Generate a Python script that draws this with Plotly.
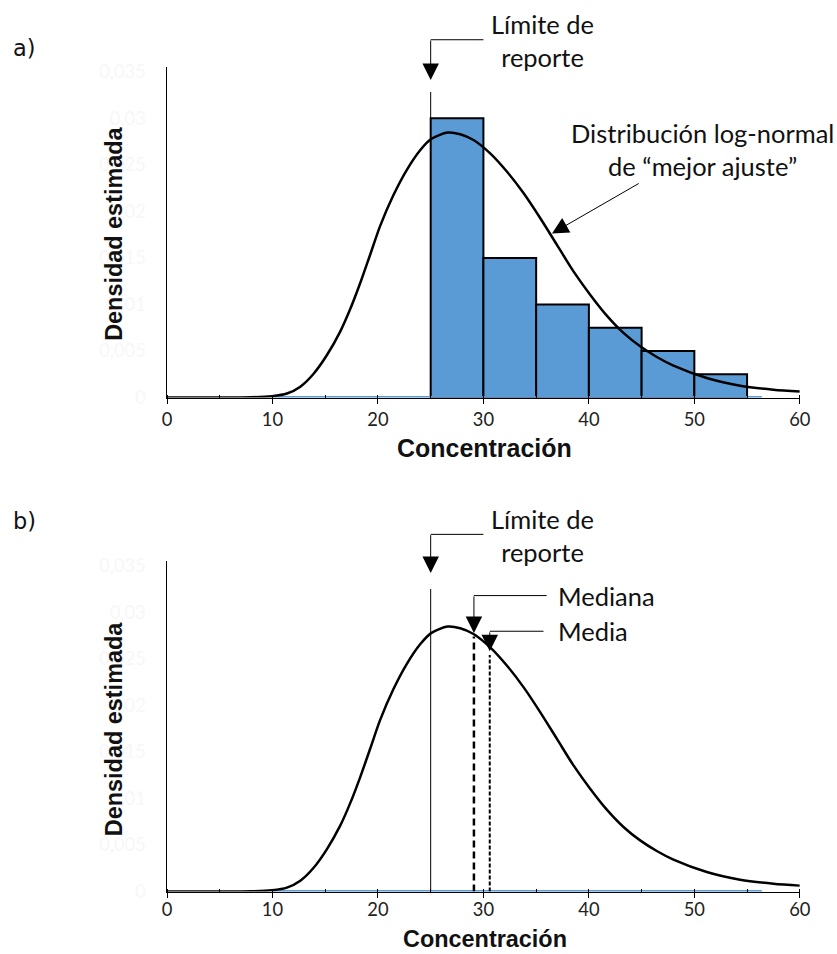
import plotly.graph_objects as go

# ---- data ----
bin_left = [25, 30, 35, 40, 45, 50]
bin_width = 5
bin_density = [0.030, 0.015, 0.010, 0.0075, 0.005, 0.0025]

curve_x = [0, 5, 8, 9.95, 11.37, 12.64, 13.9, 15.15, 16.42, 17.37, 18.31, 19.26, 20.21,
           21.47, 22.74, 24.0, 25.04, 26.6, 27.8, 29.06, 30.64, 32.22, 33.8, 35.38, 36.96,
           38.54, 40.12, 41.7, 43.28, 44.86, 46.44, 48.02, 51.18, 54.34, 57.5, 60.0]
curve_y = [0, 0, 0.00003, 0.00015, 0.00043, 0.00117, 0.00256, 0.00454, 0.00708, 0.00950,
           0.01227, 0.01534, 0.01844, 0.02175, 0.02446, 0.02656, 0.02776, 0.02846, 0.02828,
           0.02766, 0.02623, 0.02428, 0.02196, 0.01928, 0.01642, 0.01355, 0.01105, 0.00880,
           0.00694, 0.00550, 0.00436, 0.00343, 0.00210, 0.00127, 0.00084, 0.00064]

baseline_x = [10, 56.4]
baseline_y = [0, 0]

report_limit = 25
median_x = 29.1
median_top = 0.0274
mean_x = 30.6
mean_top = 0.0254

x_tickvals = [0, 10, 20, 30, 40, 50, 60]
x_ticktext = ["0", "10", "20", "30", "40", "50", "60"]
y_tickvals = [0, 0.005, 0.01, 0.015, 0.02, 0.025, 0.03, 0.035]
y_ticktext = ["0", "0,005", "0,01", "0,015", "0,02", "0,025", "0,03", "0,035"]

W, H = 837, 954
BAR_COLOR = "#5B9BD5"
TXT_FONT = "Lato"
TITLE_FONT = "Liberation Sans"

# the page is shown with a small body margin and then fitted to the window,
# so layout positions are pre-compensated for that
SX = W / (W + 16)
SY = H / (H + 16)
OFF = 5
FS = 1 / SX

def px(r):
    return (r / SX - OFF) / W

def py(r):
    return 1 - (r / SY - OFF) / H

fig = go.Figure()

bar_centers = [b + bin_width / 2 for b in bin_left]
curve_line = dict(color="black", width=2.5, shape="spline", smoothing=0.8)

# ---- top panel (a) ----
fig.add_trace(go.Scatter(x=baseline_x, y=baseline_y, mode="lines",
                         line=dict(color=BAR_COLOR, width=3), xaxis="x", yaxis="y"))
fig.add_trace(go.Bar(x=bar_centers, y=bin_density, width=[bin_width] * len(bin_left),
                     marker=dict(color=BAR_COLOR, line=dict(color="black", width=2)),
                     xaxis="x", yaxis="y"))
fig.add_trace(go.Scatter(x=curve_x, y=curve_y, mode="lines", line=curve_line,
                         xaxis="x", yaxis="y"))

# ---- bottom panel (b) ----
fig.add_trace(go.Scatter(x=baseline_x, y=baseline_y, mode="lines",
                         line=dict(color=BAR_COLOR, width=3), xaxis="x2", yaxis="y2"))
fig.add_trace(go.Scatter(x=[report_limit, report_limit], y=[0, 0.0325], mode="lines",
                         line=dict(color="black", width=1), xaxis="x2", yaxis="y2"))
fig.add_trace(go.Scatter(x=[median_x, median_x], y=[0, median_top], mode="lines",
                         line=dict(color="black", width=2.5, dash="7px,4px"),
                         xaxis="x2", yaxis="y2"))
fig.add_trace(go.Scatter(x=[mean_x, mean_x], y=[0, mean_top], mode="lines",
                         line=dict(color="black", width=2, dash="4px,2px"),
                         xaxis="x2", yaxis="y2"))
fig.add_trace(go.Scatter(x=curve_x, y=curve_y, mode="lines", line=curve_line,
                         xaxis="x2", yaxis="y2"))

xdom = [px(167), px(800)]
top_dom = [py(396), py(65)]
bot_dom = [py(890.7), py(559.7)]

xaxis_common = dict(range=[0, 60], domain=xdom, showline=True, linecolor="black", linewidth=1.5,
                    tickmode="array", tickvals=x_tickvals, ticktext=x_ticktext,
                    ticks="outside", ticklen=5, tickcolor="black", tickwidth=1,
                    minor=dict(ticks="inside", ticklen=3, dtick=5, tickcolor="black"),
                    showgrid=False, zeroline=False,
                    tickfont=dict(family=TXT_FONT, size=18 * FS, color="#222"), fixedrange=True)
yaxis_common = dict(range=[0, 0.0355], showline=True, linecolor="black", linewidth=1.5,
                    tickmode="array", tickvals=y_tickvals, ticktext=y_ticktext,
                    ticks="", ticklabelstandoff=16, showgrid=False, zeroline=False,
                    tickfont=dict(family=TXT_FONT, size=18 * FS, color="#f7f7f7"),
                    fixedrange=True)

fig.update_layout(
    width=W, height=H, margin=dict(l=0, r=0, t=0, b=0),
    paper_bgcolor="white", plot_bgcolor="white", showlegend=False, hovermode=False,
    bargap=0,
    xaxis=dict(**xaxis_common, anchor="y"),
    yaxis=dict(**yaxis_common, domain=top_dom, anchor="x"),
    xaxis2=dict(**xaxis_common, anchor="y2", ticklabelstandoff=-4),
    yaxis2=dict(**yaxis_common, domain=bot_dom, anchor="x2"),
)

ann = []
shapes = []

def text(x, y, s, size=25, family=TXT_FONT, xanchor="center", bold=False, angle=0, pad=1):
    ann.append(dict(x=px(x), y=py(y), xref="paper", yref="paper",
                    text=("<b>%s</b>" % s) if bold else s,
                    showarrow=False, xanchor=xanchor, yanchor="middle", textangle=angle,
                    borderpad=pad, font=dict(family=family, size=size * FS, color="#111")))

def arrow(xref, x, y_px, tail_dy, ax=0):
    ann.append(dict(x=x, y=py(y_px), xref=xref, yref="paper", text="", showarrow=True,
                    ax=ax / SX, ay=tail_dy / SY, axref="pixel", ayref="pixel",
                    arrowhead=2, arrowsize=3.3, arrowwidth=1, arrowcolor="black",
                    standoff=0, startstandoff=0))

def hline(xref, x0, x1, y_px):
    shapes.append(dict(type="line", xref=xref, yref="paper", x0=x0, x1=x1,
                       y0=py(y_px), y1=py(y_px), line=dict(color="black", width=1)))

# panel labels
text(24, 46, "a)", size=22, family="DejaVu Sans")
text(24, 520, "b)", size=22, family="DejaVu Sans")

# axis titles
text(485, 447, "Concentración", size=24.5, family=TITLE_FONT, bold=True)
text(485, 938, "Concentración", size=23, family=TITLE_FONT, bold=True, pad=0)
text(114, 232, "Densidad estimada", size=23, family=TITLE_FONT, bold=True, angle=-90)
text(114, 728, "Densidad estimada", size=23, family=TITLE_FONT, bold=True, angle=-90)

# top: report limit
text(543, 38, "Límite de<br>reporte", size=25)
hline("x", report_limit, 30, 37.7)
arrow("x", report_limit, 78, -40.3)
shapes.append(dict(type="line", xref="x", yref="paper", x0=report_limit, x1=report_limit,
                   y0=py(396), y1=py(90), line=dict(color="black", width=1), layer="below"))

# top: log-normal label
text(703, 148, "Distribución log-normal<br>de “mejor ajuste”", size=25)
arrow("x", 36.5, 231.7, -50, ax=86.6)

# bottom: report limit
text(543, 534, "Límite de<br>reporte", size=25)
hline("x2", report_limit, 30, 533)
arrow("x2", report_limit, 571.7, -38.7)

# bottom: median / mean
text(556, 595, "Mediana", size=25, xanchor="left")
hline("x2", median_x, 36.0, 594.3)
arrow("x2", median_x, 631.7, -37.4)
text(556, 630, "Media", size=25, xanchor="left")
hline("x2", mean_x, 35.7, 630)
arrow("x2", mean_x, 650, -20)

fig.update_layout(annotations=ann, shapes=shapes)

fig.write_html("out.html", config=dict(displayModeBar=False, staticPlot=True))
